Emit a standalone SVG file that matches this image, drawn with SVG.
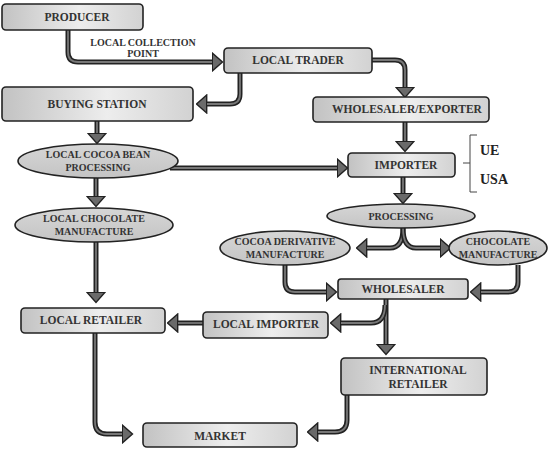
<svg xmlns="http://www.w3.org/2000/svg" width="550" height="451" viewBox="0 0 550 451">
<defs>
<linearGradient id="gb" x1="0" y1="0" x2="1" y2="0">
<stop offset="0" stop-color="#c2c2c2"/><stop offset="0.55" stop-color="#ededed"/><stop offset="1" stop-color="#d2d2d2"/>
</linearGradient>
<linearGradient id="ge" x1="0" y1="0" x2="0" y2="1">
<stop offset="0" stop-color="#d6d6d6"/><stop offset="1" stop-color="#c4c4c4"/>
</linearGradient>
<marker id="ah" markerUnits="userSpaceOnUse" markerWidth="12" markerHeight="20" viewBox="0 0 12 20" refX="0.5" refY="10" orient="auto">
<path d="M0.8,1 L11,10 L0.8,19 z" fill="#6a6a6a" stroke="#222" stroke-width="1.4" stroke-linejoin="miter"/>
</marker>
</defs>
<style>
.box{fill:url(#gb);stroke:#222;stroke-width:1.6}
.ell{fill:url(#ge);stroke:#222;stroke-width:1.6}
text{font-family:"Liberation Serif","Times New Roman",serif;font-weight:bold;fill:#333;text-anchor:middle}
.t{font-size:11.5px}
.s{font-size:10px}
.b{font-size:14px;fill:#222;text-anchor:start}
.sh{fill:none;stroke:#222;stroke-width:5;marker-end:url(#ah)}
.in{fill:none;stroke:#777;stroke-width:1.8}
.br{fill:none;stroke:#444;stroke-width:1}
</style>
<g id="connectors">
<path class="sh" d="M68,30 V52 Q68,62 78,62 H212"/><path class="in" d="M68,30 V52 Q68,62 78,62 H212"/>
<path class="sh" d="M240,73 V94 Q240,104 230,104 H207"/><path class="in" d="M240,73 V94 Q240,104 230,104 H207"/>
<path class="sh" d="M372,60 H395 Q405,60 405,70 V87"/><path class="in" d="M372,60 H395 Q405,60 405,70 V87"/>
<path class="sh" d="M97,121 V133"/><path class="in" d="M97,121 V133"/>
<path class="sh" d="M405,122 V141"/><path class="in" d="M405,122 V141"/>
<path class="sh" d="M170,168 H337"/><path class="in" d="M170,168 H337"/>
<path class="sh" d="M96,178 V196"/><path class="in" d="M96,178 V196"/>
<path class="sh" d="M403,177 V193"/><path class="in" d="M403,177 V193"/>
<path class="sh" d="M403,228 Q403,248 390,248 H367"/><path class="in" d="M403,228 Q403,248 390,248 H367"/>
<path class="sh" d="M403,228 Q403,248 416,248 H440"/><path class="in" d="M403,228 Q403,248 416,248 H440"/>
<path class="sh" d="M285,265 V282 Q285,292 295,292 H326"/><path class="in" d="M285,265 V282 Q285,292 295,292 H326"/>
<path class="sh" d="M518,265 V282 Q518,292 508,292 H481"/><path class="in" d="M518,265 V282 Q518,292 508,292 H481"/>
<path class="sh" d="M386,299 V344"/><path class="in" d="M386,299 V344"/>
<path class="sh" d="M385,305 Q385,323 371,323 H341"/><path class="in" d="M385,305 Q385,323 371,323 H341"/>
<path class="sh" d="M203,323 H178"/><path class="in" d="M203,323 H178"/>
<path class="sh" d="M96,242 V292"/><path class="in" d="M96,242 V292"/>
<path class="sh" d="M95,333 V422 Q95,434 107,434 H122"/><path class="in" d="M95,333 V422 Q95,434 107,434 H122"/>
<path class="sh" d="M347,395 V420 Q347,432 335,432 H318"/><path class="in" d="M347,395 V420 Q347,432 335,432 H318"/>
</g>
<g id="label-collection">
<text class="s" x="143" y="46">LOCAL COLLECTION</text>
<text class="s" x="143" y="57">POINT</text>
</g>
<g id="producer"><rect class="box" x="2" y="4" width="141" height="26" rx="4"/><text class="t" x="77" y="21">PRODUCER</text></g>
<g id="local-trader"><rect class="box" x="224" y="48" width="148" height="25" rx="4"/><text class="t" x="298" y="64">LOCAL TRADER</text></g>
<g id="buying-station"><rect class="box" x="2" y="87" width="191" height="34" rx="4"/><text class="t" x="97" y="108">BUYING STATION</text></g>
<g id="wholesaler-exporter"><rect class="box" x="313" y="97" width="176" height="25" rx="4"/><text class="t" x="407" y="113">WHOLESALER/EXPORTER</text></g>
<g id="local-cocoa"><ellipse class="ell" cx="98" cy="161" rx="80" ry="17"/><text class="s" x="98" y="158">LOCAL COCOA BEAN</text><text class="s" x="98" y="171">PROCESSING</text></g>
<g id="importer"><rect class="box" x="348" y="153" width="107" height="24" rx="4"/><text class="t" x="406" y="169">IMPORTER</text></g>
<g id="bracket">
<path class="br" d="M477,135 H470 V192 H477 M470,163 H463"/>
<text class="b" x="480" y="155">UE</text>
<text class="b" x="480" y="184">USA</text>
</g>
<g id="local-chocolate"><ellipse class="ell" cx="94" cy="225" rx="79" ry="17"/><text class="s" x="94" y="222">LOCAL  CHOCOLATE</text><text class="s" x="94" y="235">MANUFACTURE</text></g>
<g id="processing"><ellipse class="ell" cx="401" cy="216" rx="74" ry="12"/><text class="s" x="401" y="219.5">PROCESSING</text></g>
<g id="cocoa-derivative"><ellipse class="ell" cx="285" cy="248" rx="65" ry="17"/><text class="s" x="285" y="245">COCOA DERIVATIVE</text><text class="s" x="285" y="258">MANUFACTURE</text></g>
<g id="chocolate-manufacture"><ellipse class="ell" cx="498" cy="248" rx="49" ry="17"/><text class="s" x="498" y="245">CHOCOLATE</text><text class="s" x="498" y="258">MANUFACTURE</text></g>
<g id="wholesaler"><rect class="box" x="338" y="279" width="130" height="20" rx="3"/><text class="t" x="403" y="293">WHOLESALER</text></g>
<g id="local-retailer"><rect class="box" x="21" y="308" width="144" height="25" rx="4"/><text class="t" x="91" y="324">LOCAL RETAILER</text></g>
<g id="local-importer"><rect class="box" x="203" y="312" width="125" height="26" rx="4"/><text class="t" x="266" y="328">LOCAL IMPORTER</text></g>
<g id="international-retailer"><rect class="box" x="341" y="358" width="146" height="37" rx="4"/><text class="t" x="418" y="374">INTERNATIONAL</text><text class="t" x="418" y="388">RETAILER</text></g>
<g id="market"><rect class="box" x="143" y="423" width="154" height="24" rx="4"/><text class="t" x="220" y="440">MARKET</text></g>
</svg>
